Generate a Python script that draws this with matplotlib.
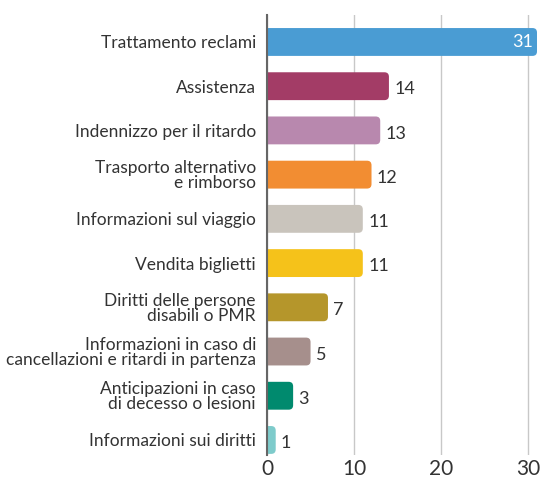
import matplotlib.pyplot as plt
from matplotlib.patches import FancyBboxPatch

categories = [
    'Trattamento reclami',
    'Assistenza',
    'Indennizzo per il ritardo',
    'Trasporto alternativo\ne rimborso',
    'Informazioni sul viaggio',
    'Vendita biglietti',
    'Diritti delle persone\ndisabili o PMR',
    'Informazioni in caso di\ncancellazioni e ritardi in partenza',
    'Anticipazioni in caso\ndi decesso o lesioni',
    'Informazioni sui diritti',
]
values = [31, 14, 13, 12, 11, 11, 7, 5, 3, 1]
colors = ['#4a9cd3', '#a33c66', '#b888ae', '#f28d32', '#c9c4bc',
          '#f5c21a', '#b5962b', '#a68f8c', '#008a6e', '#7ecbcb']

plt.rcParams['font.family'] = ['Lato', 'DejaVu Sans']

fig = plt.figure(figsize=(5.4, 4.93), dpi=100)
ax = fig.add_axes([267 / 540, 1 - 455 / 493, 270 / 540, 440 / 493])

ax.set_xlim(0, 31)
ax.set_ylim(9.34, -0.61)

# pixels per unit, used to keep the corner rounding circular
px_x = 270 / 31
px_y = 440 / 9.95
h = 0.63
r = 4.5 / px_x

for i, (v, c) in enumerate(zip(values, colors)):
    box = FancyBboxPatch((-1, i - h / 2), v + 1, h,
                         boxstyle=f'round,pad=0,rounding_size={r}',
                         mutation_aspect=px_x / px_y,
                         facecolor=c, edgecolor='none', zorder=3)
    ax.add_patch(box)
    if v >= 25:
        ax.text(v - 0.5, i, str(v), ha='right', va='center', color='white',
                fontsize=13, zorder=4)
    else:
        ax.text(v + 0.6, i + 0.07, str(v), ha='left', va='center', color='#333333',
                fontsize=13, zorder=4)

ax.set_yticks(range(len(categories)))
ax.set_yticklabels(categories, fontsize=12.5, color='#333333', linespacing=0.92)
ax.tick_params(axis='y', length=0, pad=8)

ax.set_xticks([0, 10, 20, 30])
ax.tick_params(axis='x', length=0, labelsize=15, labelcolor='#333333', pad=3)
ax.xaxis.grid(True, color='#c8c8c8', linewidth=1)
ax.set_axisbelow(True)

for s in ['top', 'right', 'bottom']:
    ax.spines[s].set_visible(False)
ax.spines['left'].set_color('#666666')
ax.spines['left'].set_linewidth(1.5)
ax.spines['left'].set_zorder(5)

fig.savefig('out.png', dpi=100)
